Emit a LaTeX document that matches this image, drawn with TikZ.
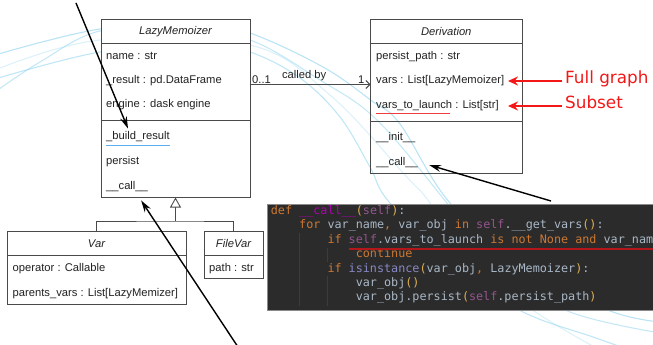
\documentclass[tikz,border=0pt]{standalone}
\usepackage{fontspec}
\setmainfont{Liberation Sans}
\newfontfamily\codefont{DejaVu Sans Mono}
\newfontfamily\annfont{DejaVu Sans}
\usetikzlibrary{arrows.meta,calc}

\definecolor{umlline}{HTML}{4A4A4A}
\definecolor{umltext}{HTML}{222222}
\definecolor{swoosh}{HTML}{8CD2EE}
\definecolor{codebg}{HTML}{2B2B2B}
\definecolor{codeedge}{HTML}{8A8A8A}
\definecolor{ckw}{HTML}{CC7832}
\definecolor{cself}{HTML}{94558D}
\definecolor{ctxt}{HTML}{A9B7C6}
\definecolor{cmagic}{HTML}{B200B2}
\definecolor{cbuiltin}{HTML}{8888C6}
\definecolor{cparen}{HTML}{E0B050}
\definecolor{cguide}{HTML}{3C3C3C}
\definecolor{errline}{HTML}{B3161B}
\definecolor{notered}{HTML}{F21818}
\definecolor{bluemark}{HTML}{5CAEF0}
\definecolor{redmark}{HTML}{F03C3C}

\newcommand{\umlfont}{\fontsize{11.2}{13}\selectfont}
\newcommand{\cdK}[1]{\textcolor{ckw}{#1}}
\newcommand{\cdS}[1]{\textcolor{cself}{#1}}
\newcommand{\cdT}[1]{\textcolor{ctxt}{#1}}
\newcommand{\cdM}[1]{\textcolor{cmagic}{#1}}
\newcommand{\cdB}[1]{\textcolor{cbuiltin}{#1}}
\newcommand{\cdP}[1]{\textcolor{cparen}{#1}}

\tikzset{
  part/.style={draw=umlline, line width=0.9pt, inner sep=0pt, outer sep=0pt},
  head/.style={part, font=\umlfont\itshape, text=umltext},
  row/.style={anchor=west, inner sep=0pt, text height=8pt, text depth=2.5pt,
              font=\umlfont, text=umltext},
  lbl/.style={inner sep=1pt, font=\umlfont, text=umltext},
  umlconn/.style={draw=umlline, line width=0.9pt},
  assoc/.style={umlconn, -{Straight Barb[length=4pt,width=8pt]}},
  gen/.style={umlconn, -{Triangle[open,length=10pt,width=11pt,fill=white]}},
  note/.style={anchor=west, inner xsep=3pt, inner ysep=0pt, text height=8pt,
               text depth=3.4pt, font=\annfont\fontsize{16.8}{18}\selectfont, text=notered},
  redarr/.style={draw=notered, line width=1.8pt, -{Stealth[length=10pt,width=9pt]}},
  annot/.style={draw=black, line width=1.4pt, -{Stealth[length=12pt,width=7pt]}},
  swooshline/.style={draw=swoosh, line width=1.1pt},
  codepanel/.style={draw=codeedge, line width=0.8pt, fill=codebg, inner sep=0pt},
  codeline/.style={anchor=west, inner sep=0pt, text height=8pt, text depth=2.5pt,
                   font=\codefont\fontsize{11.76}{14}\selectfont\frenchspacing},
}

\begin{document}
\begin{tikzpicture}[x=1pt, y=-1pt]
\useasboundingbox (0,0) rectangle (653,345);

% light background swooshes
\begin{scope}
\clip (0,0) rectangle (653,345);
\draw[swooshline, opacity=.6] plot[smooth, tension=.6] coordinates
  {(-5,55) (100,29) (200,24) (250,33) (323,67) (372,101) (400,124) (450,203) (530,275) (613,312) (660,322)};
\draw[swooshline, opacity=.55] plot[smooth, tension=.6] coordinates
  {(-5,79) (100,52) (200,44) (250,52) (300,78) (340,117) (370,167) (390,203) (460,270) (523,312) (593,337) (630,350)};
\draw[swooshline, opacity=.5] plot[smooth, tension=.6] coordinates
  {(-5,92) (40,62) (100,31) (180,30) (250,40) (320,80) (377,120) (447,203) (500,270) (570,312) (660,333)};
\draw[swooshline, opacity=.3] plot[smooth, tension=.6] coordinates
  {(-5,70) (100,40) (250,45) (330,95) (405,175) (430,203) (470,265) (540,315) (600,350)};
\end{scope}

% LazyMemoizer
\node[head, fill=white, minimum width=149pt, minimum height=24.5pt] (lmH) at (175.5,31.25) {LazyMemoizer};
\node[part, fill=white, minimum width=149pt, minimum height=77pt] (lmA) at (175.5,82) {};
\node[part, fill=white, minimum width=149pt, minimum height=77pt] (lmM) at (175.5,159) {};
\node[row] (lm1) at (106,57) {name : str};
\node[row] (lm2) at (106,81) {\_result : pd.DataFrame};
\node[row] (lm3) at (106,105) {engine : dask engine};
\node[row] (lm4) at (106,137) {\_build\_result};
\node[row] (lm5) at (106,162) {persist};
\node[row] (lm6) at (106,187) {\_\_call\_\_};
\draw[bluemark, line width=1.4pt] ($(lm4.south west)+(0,3)$) -- ($(lm4.south east)+(0,3)$);

% Derivation
\node[head, minimum width=151.5pt, minimum height=24.2pt] (dH) at (446.25,31.6) {Derivation};
\node[part, minimum width=151.5pt, minimum height=77.3pt] (dA) at (446.25,82.35) {};
\node[part, minimum width=151.5pt, minimum height=52pt] (dM) at (446.25,147) {};
\node[row] (da1) at (376,57) {persist\_path : str};
\node[row] (da2) at (376,81) {vars : List[LazyMemoizer]};
\node[row] (da3) at (376,106) {vars\_to\_launch : List[str]};
\node[row] (dm1) at (376,138) {\_\_init\_\_};
\node[row] (dm2) at (376,163) {\_\_call\_\_};
\draw[redmark, line width=1.2pt] ($(da3.south west)+(0,2)$) -- ($(da3.south west)+(74,2)$);

% Var
\node[head, fill=white, minimum width=179pt, minimum height=24pt] (vH) at (96.5,243.7) {Var};
\node[part, fill=white, minimum width=179pt, minimum height=48.3pt] (vA) at (96.5,279.85) {};
\node[row] (va1) at (12.5,269) {operator : Callable};
\node[row] (va2) at (12.5,294) {parents\_vars : List[LazyMemizer]};

% FileVar
\node[head, fill=white, minimum width=59pt, minimum height=24pt] (fH) at (233.5,243.7) {FileVar};
\node[part, fill=white, minimum width=59pt, minimum height=23pt] (fA) at (233.5,267.2) {};
\node[row] (fa1) at (209,269) {path : str};

% generalisation
\coordinate (jn) at (lmM.south |- 0,221);
\draw[gen] (jn) -- (lmM.south);
\draw[umlconn] (vH.north) |- (jn) -| (fH.north);

% association
\coordinate (asL) at ($(lmA.east)+(0,2.5)$);
\draw[assoc] (asL) -- (asL -| dA.west) coordinate (asR);
\node[lbl, anchor=south west] (mL) at ($(asL)+(1,0)$) {0..1};
\node[lbl, anchor=south] (cby) at ($(asL)!0.45!(asR)+(0,-2)$) {called by};
\node[lbl, anchor=south east] (mR) at ($(asR)+(-5,0)$) {1};

% notes
\node[note] (full) at (562,81) {Full graph};
\node[note] (sub) at (562,106) {Subset};
\coordinate (tipcol) at (508,0);
\draw[redarr] (full.west) -- (full.west -| tipcol);
\draw[redarr] (sub.west) -- (sub.west -| tipcol);

% code excerpt (runs past the right edge)
\begin{scope}
\clip (0,0) rectangle (653,345);
\node[codepanel, anchor=north west, minimum width=420pt, minimum height=106pt] (code) at (267.3,204) {};
\draw[cguide, line width=0.8pt] (299,233) -- (299,306);
\draw[cguide, line width=0.8pt] (327.3,248) -- (327.3,262);
\draw[cguide, line width=0.8pt] (327.3,276) -- (327.3,306);
\node[codeline] (c1) at (270.7,211.7) {\cdK{def} \cdM{\_\_call\_\_}\cdP{(}\cdS{self}\cdP{)}\cdT{:}};
\node[codeline] (c2) at (299.0,226.1) {\cdK{for} \cdT{var\_name}\cdK{,} \cdT{var\_obj} \cdK{in} \cdS{self}\cdT{.\_\_get\_vars}\cdP{()}\cdT{:}};
\node[codeline] (c3) at (327.3,240.5) {\cdK{if} \cdS{self}\cdT{.vars\_to\_launch} \cdK{is not None and} \cdT{var\_name}};
\node[codeline] (c4) at (355.6,254.9) {\cdK{continue}};
\node[codeline] (c5) at (327.3,269.3) {\cdK{if} \cdB{isinstance}\cdP{(}\cdT{var\_obj}\cdK{,} \cdT{LazyMemoizer}\cdP{)}\cdT{:}};
\node[codeline] (c6) at (355.6,283.8) {\cdT{var\_obj}\cdP{()}};
\node[codeline] (c7) at (355.6,298.2) {\cdT{var\_obj.persist}\cdP{(}\cdS{self}\cdT{.persist\_path}\cdP{)}};
\draw[errline, line width=1.2pt] ($(c3.south west)+(22,3)$) -- ($(c3.south west)+(400,3)$);
\end{scope}

% pointers
\coordinate (p1) at (76,3);
\coordinate (p2) at (238,347);
\coordinate (p3) at (551,201);
\draw[annot] (p1) -- ($(lm4.north west)+(22,-3)$);
\draw[annot] (p2) -- ($(lm6.south east)+(-7,8)$);
\draw[annot] (p3) -- ($(dm2.east)+(11,2)$);
\end{tikzpicture}
\end{document}
